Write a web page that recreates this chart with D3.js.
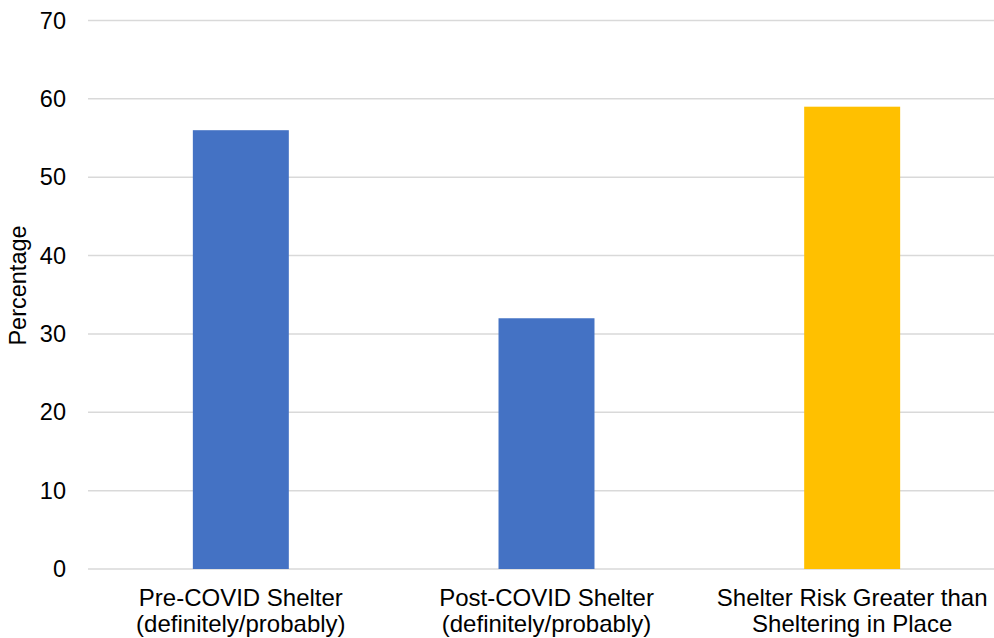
<!DOCTYPE html>
<html>
<head>
<meta charset="utf-8">
<script src="https://cdn.jsdelivr.net/npm/d3@7"></script>
<style>
  body { margin: 0; background: #fff; }
  svg text { font-family: "Liberation Sans", Arial, sans-serif; fill: #000; }
</style>
</head>
<body>
<script>
// chart data
const categories = [
    ["Pre-COVID Shelter", "(definitely/probably)"],
    ["Post-COVID Shelter", "(definitely/probably)"],
    ["Shelter Risk Greater than", "Sheltering in Place"]
];
const values = [56, 32, 59];
const barColors = ["#4472C4", "#4472C4", "#FFC000"];
const yTicks = [0, 10, 20, 30, 40, 50, 60, 70];

const W = 994, H = 638;
const margin = {top: 20.5, right: -11, bottom: 69, left: 88};
const width = W - margin.left - margin.right,
      height = H - margin.top - margin.bottom;

const svg = d3.select("body").append("svg")
    .attr("width", W)
    .attr("height", H);

const g = svg.append("g")
    .attr("transform", "translate(" + margin.left + "," + margin.top + ")");

const x = d3.scaleBand()
    .domain(d3.range(categories.length))
    .range([0, width])
    .paddingInner(0.686)
    .paddingOuter(0.343);

const y = d3.scaleLinear().domain([0, 70]).range([height, 0]);

// gridlines
g.append("g")
    .selectAll("line")
    .data(yTicks)
    .enter().append("line")
    .attr("x1", 0)
    .attr("x2", width)
    .attr("y1", d => y(d))
    .attr("y2", d => y(d))
    .attr("stroke", "#d9d9d9")
    .attr("stroke-width", 1.5);

// y tick labels
const yAxis = d3.axisLeft(y).tickValues(yTicks).tickSize(0).tickPadding(22);
g.append("g")
    .call(yAxis)
    .call(s => s.select(".domain").remove())
    .selectAll("text")
    .attr("font-size", "23.5px")
    .attr("font-family", null)
    .attr("fill", "#000");

// bars
g.selectAll(".bar")
    .data(values)
    .enter().append("rect")
    .attr("class", "bar")
    .attr("x", (d, i) => x(i))
    .attr("width", x.bandwidth())
    .attr("y", d => y(d))
    .attr("height", d => height - y(d))
    .attr("fill", (d, i) => barColors[i]);

// category labels (two lines each)
const labels = g.append("g")
    .selectAll("text")
    .data(categories)
    .enter().append("text")
    .attr("text-anchor", "middle")
    .attr("font-size", "24px")
    .attr("transform", (d, i) => "translate(" + (x(i) + x.bandwidth() / 2) + "," + (height + 36.5) + ")");

labels.selectAll("tspan")
    .data(d => d)
    .enter().append("tspan")
    .attr("x", 0)
    .attr("dy", (d, i) => i === 0 ? 0 : 26)
    .text(d => d);

// y axis title
svg.append("text")
    .attr("transform", "translate(26,285.5) rotate(-90)")
    .attr("text-anchor", "middle")
    .attr("font-size", "23.5px")
    .text("Percentage");
</script>
</body>
</html>
